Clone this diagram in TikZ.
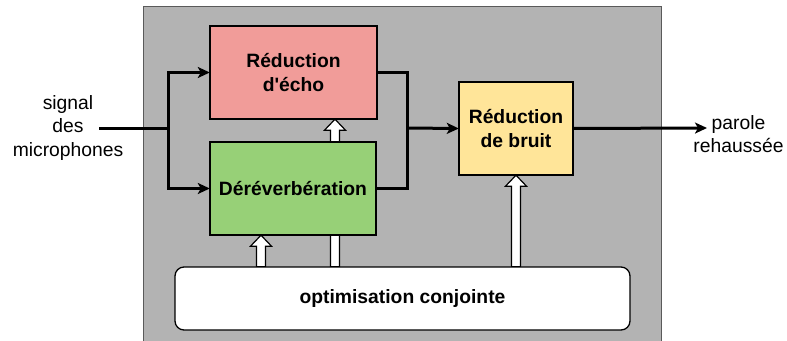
\documentclass[tikz,border=0pt]{standalone}
\usepackage{fontspec}
\setmainfont{Liberation Sans}
\usetikzlibrary{arrows.meta,calc}

\definecolor{panelgray}{HTML}{B3B3B3}
\definecolor{panelline}{HTML}{5A5A5A}
\definecolor{echored}{HTML}{F19C99}
\definecolor{dereverbgreen}{HTML}{97D077}
\definecolor{noiseyellow}{HTML}{FFE599}

\tikzset{
  frame/.style={inner sep=0pt, minimum height=93pt},
  block/.style={frame, draw=black, line width=1.3pt, align=center,
    font=\fontsize{19.3}{23.5}\selectfont\bfseries},
  label/.style={align=center, inner sep=0pt, font=\fontsize{19.3}{23.5}\selectfont},
  flow/.style={line width=3pt, draw=black},
  flowarrow/.style={flow, -{Stealth[length=12pt,width=11pt,inset=3pt]}},
  hollow/.style={fill=white, draw=black, line width=1.2pt, line join=miter}
}

% vertical white arrow pointing up from #1 to #2 (x taken from #1)
\newcommand\hollowup[2]{%
  \path[hollow] let \p1=(#1), \p2=(#2) in
    (\x1-4.5pt,\y1) -- (\x1-4.5pt,\y2-11pt) -- (\x1-10.5pt,\y2-11pt) --
    (\x1,\y2) -- (\x1+10.5pt,\y2-11pt) -- (\x1+4.5pt,\y2-11pt) --
    (\x1+4.5pt,\y1) -- cycle;}

\begin{document}
\begin{tikzpicture}[x=1pt,y=-1pt]
  \useasboundingbox (0,0) rectangle (787,340);

  % grey processing panel
  \path[fill=panelgray, draw=panelline, line width=1pt] (143,6) rectangle (661,345);

  % block outlines used as anchors
  \node[frame, minimum width=167pt] (echo) at (293.5,72.5) {};
  \node[frame, minimum width=166pt] (dereverb) at (293,188.5) {};
  \node[frame, minimum width=114pt] (noise) at (516,128.5) {};
  \node[frame, minimum width=455pt, minimum height=63pt] (opt) at (402.5,298.5) {};

  \coordinate (split) at (168,128);
  \coordinate (merge) at (407,128);
  \coordinate (inStart) at (99,128);
  \coordinate (outEnd) at (707,128);

  \node[label] (input) at (68,128) {signal\\des\\microphones};
  \node[label] (output) at (738.5,134) {parole\\rehaussée};

  % signal path
  \draw[flow] (inStart) -- (split);
  \draw[flowarrow] (split) |- (echo.west);
  \draw[flowarrow] (split) |- (dereverb.west);
  \draw[flow] (echo.east) -| (merge);
  \draw[flow] (dereverb.east) -| (merge);
  \draw[flowarrow] (merge) -- (noise.west);
  \draw[flowarrow] (noise.east) -- (outEnd);

  % control arrows from the joint optimisation
  \hollowup{335,0 |- opt.north}{echo.south}
  \hollowup{261,0 |- opt.north}{dereverb.south}
  \hollowup{516,0 |- opt.north}{noise.south}

  % blocks drawn over the control arrows
  \node[block, fill=echored, minimum width=167pt] at (echo)
    {Réduction\\d\textquotesingle écho};
  \node[block, fill=dereverbgreen, minimum width=166pt] at (dereverb)
    {Déréverbération};
  \node[block, fill=noiseyellow, minimum width=114pt] at (noise)
    {Réduction\\de bruit};
  \node[block, fill=white, rounded corners=9pt, minimum width=455pt,
    minimum height=63pt] at (opt) {optimisation conjointe};
\end{tikzpicture}
\end{document}
